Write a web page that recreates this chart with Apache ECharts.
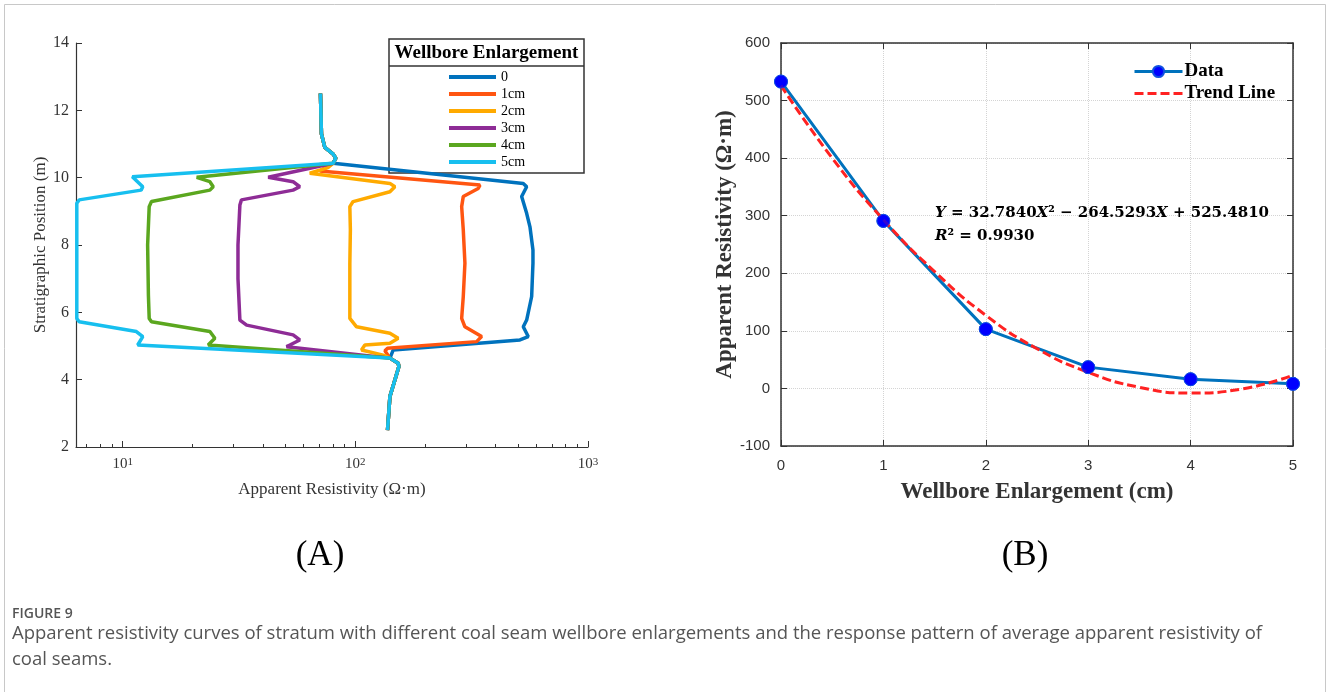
<!DOCTYPE html>
<html>
<head>
<meta charset="utf-8">
<script src="https://cdn.jsdelivr.net/npm/echarts@6.0.0/dist/echarts.min.js"></script>
<style>
html, body { margin: 0; padding: 0; background: #fff; }
#main { width: 1328px; height: 692px; }
</style>
</head>
<body>
<div id="main"></div>
<script>
// (A) apparent resistivity curves: shared top / bottom parts, then each curve's own middle part
var topDepth = [12.5, 11.3, 10.9, 10.7, 10.58, 10.43];
var topRes = [70.8, 71.5, 73.9, 80.3, 82.4, 80.3];
var bottomDepth = [4.64, 4.49, 4.39, 3.99, 3.5, 2.5];
var bottomRes = [140.8, 152.8, 153.9, 147.9, 140.8, 137.5];

var depth0 = [9.83, 9.73, 9.44, 8.94, 8.54, 7.85, 7.46, 6.47, 5.77, 5.57, 5.28, 5.18, 4.88];
var res0 = [526.9, 544.9, 518.6, 544.9, 563, 580, 580, 572.6, 544.9, 526.9, 553.5, 510, 145.4];

var depth1 = [10.2, 9.78, 9.68, 9.44, 9.14, 8.45, 7.46, 6.47, 5.82, 5.57, 5.28, 5.13, 4.93, 4.86];
var res1 = [70.3, 343.2, 337.3, 291, 286.4, 291, 295.8, 291, 286.4, 295.8, 349, 332, 137.5, 134];

var depth2 = [10.3, 10.13, 9.83, 9.73, 9.58, 9.29, 9.14, 8.45, 7.46, 6.47, 5.82, 5.57, 5.38, 5.23, 5.08, 5.03, 4.88, 4.73];
var res2 = [76.2, 63.7, 140.8, 147.9, 140.8, 97.8, 94.7, 95.2, 94.7, 94.7, 94.7, 101.2, 140.8, 152.8, 140.8, 109.9, 106.3, 131.7];

var depth3 = [10.01, 9.88, 9.73, 9.63, 9.34, 9.19, 8.0, 7.0, 5.77, 5.62, 5.33, 5.18, 5.03, 4.98];
var res3 = [42.2, 54.0, 57.7, 54.0, 32.4, 31.9, 31.3, 31.3, 31.9, 34.1, 54.0, 57.7, 52.3, 50.6];

var depth4 = [10.01, 9.88, 9.73, 9.63, 9.29, 9.14, 8.0, 6.5, 5.82, 5.72, 5.43, 5.23, 5.03, 4.98];
var res4 = [20.8, 23.7, 24.5, 23.7, 13.3, 13.0, 12.8, 12.9, 13.0, 13.3, 23.7, 24.9, 23.3, 22.9];

var depth5 = [10.03, 9.73, 9.63, 9.34, 9.24, 5.82, 5.72, 5.43, 5.28, 5.03, 4.98];
var res5 = [11.0, 12.2, 12.0, 6.5, 6.35, 6.35, 6.5, 11.45, 12.2, 11.6, 11.45];

var curveNames = ['0', '1cm', '2cm', '3cm', '4cm', '5cm'];
var curveColors = ['#0072BD', '#FF5511', '#FFAA00', '#8E2C96', '#5BA71F', '#17BFEF'];

// (B) average apparent resistivity vs enlargement
var enlargement = [0, 1, 2, 3, 4, 5];
var avgRes = [533, 291, 103, 37, 16, 8];
var trendX = [0, 0.5, 1, 1.5, 2, 2.5, 3, 3.5, 4, 4.5, 5];
var trendY = [526, 400, 293, 203, 127, 69, 28, 2, -8, -1, 23];

var logMajor = [10, 100, 1000];
var logMinor = [7, 8, 9, 20, 30, 40, 50, 60, 70, 80, 90, 200, 300, 400, 500, 600, 700, 800, 900];

var serif = '"Liberation Serif", "DejaVu Serif", serif';
var mathSerif = '"DejaVu Serif", "Liberation Serif", serif';
var sans = '"Liberation Sans", Arial, sans-serif';
var capFont = '"Open Sans", "Noto Sans", sans-serif';

function makeCurve(dep, res) {
    var d = topDepth.concat(dep, bottomDepth);
    var r = topRes.concat(res, bottomRes);
    return r.map(function (v, i) { return [v, d[i]]; });
}

var chart = echarts.init(document.getElementById('main'));

var curves = [[depth0, res0], [depth1, res1], [depth2, res2], [depth3, res3], [depth4, res4], [depth5, res5]];
var series = curves.map(function (c, i) {
    return {
        name: curveNames[i],
        type: 'line',
        xAxisIndex: 0,
        yAxisIndex: 0,
        data: makeCurve(c[0], c[1]),
        showSymbol: false,
        symbol: 'none',
        color: curveColors[i],
        lineStyle: { width: 3.5, color: curveColors[i] },
        z: 2 + i
    };
});

series.push({
    name: 'Data',
    type: 'line',
    xAxisIndex: 2,
    yAxisIndex: 1,
    data: enlargement.map(function (x, i) { return [x, avgRes[i]]; }),
    symbol: 'circle',
    symbolSize: 13,
    color: '#0072BD',
    lineStyle: { width: 3, color: '#0072BD' },
    itemStyle: { color: '#0000FF', borderColor: '#1050E0', borderWidth: 1 },
    z: 2
});
series.push({
    name: 'Trend Line',
    type: 'line',
    xAxisIndex: 2,
    yAxisIndex: 1,
    data: trendX.map(function (x, i) { return [x, trendY[i]]; }),
    smooth: true,
    showSymbol: false,
    symbol: 'none',
    color: '#FF2222',
    lineStyle: { width: 3, color: '#FF2222', type: [9, 4] },
    z: 3
});
series.push({
    name: 'Data',
    type: 'scatter',
    xAxisIndex: 2,
    yAxisIndex: 1,
    data: enlargement.map(function (x, i) { return [x, avgRes[i]]; }),
    symbolSize: 13,
    itemStyle: { color: '#0000FF', borderColor: '#1050E0', borderWidth: 1 },
    z: 4
});

var option = {
    animation: false,
    backgroundColor: '#fff',
    grid: [
        { left: 76, top: 43, width: 512, height: 404 },
        { left: 781, top: 43, width: 512, height: 403 }
    ],
    legend: [
        {
            data: curveNames,
            orient: 'vertical',
            left: 449,
            top: 70,
            padding: 0,
            icon: 'rect',
            itemWidth: 47,
            itemHeight: 4,
            itemGap: 3,
            selectedMode: false,
            textStyle: { fontFamily: serif, fontSize: 14, color: '#000' }
        },
        {
            data: ['Data', { name: 'Trend Line', itemStyle: { opacity: 0 } }],
            orient: 'vertical',
            left: 1133,
            top: 62,
            padding: 0,
            itemWidth: 48,
            itemHeight: 14,
            itemGap: 3,
            selectedMode: false,
            lineStyle: { width: 3 },
            textStyle: { fontFamily: serif, fontSize: 19, fontWeight: 'bold', color: '#000', padding: [0, 0, 0, -3] }
        }
    ],
    xAxis: [
        {
            gridIndex: 0,
            type: 'log',
            min: 6.3,
            max: 1000,
            position: 'bottom',
            axisLine: { lineStyle: { color: '#333', width: 1.2 } },
            axisTick: { inside: true, length: 6, customValues: logMajor, lineStyle: { color: '#333' } },
            axisLabel: {
                customValues: logMajor,
                margin: 10,
                color: '#333',
                fontFamily: serif,
                fontSize: 15,
                formatter: function (v) { return '10{sup|' + Math.round(Math.log10(v)) + '}'; },
                rich: { sup: { fontFamily: serif, fontSize: 11, color: '#333', verticalAlign: 'top' } }
            },
            splitLine: { show: false },
            name: 'Apparent Resistivity (Ω·m)',
            nameLocation: 'middle',
            nameGap: 34,
            nameTextStyle: { fontFamily: serif, fontSize: 17, color: '#333' }
        },
        {
            gridIndex: 0,
            type: 'log',
            min: 6.3,
            max: 1000,
            position: 'bottom',
            axisLine: { show: false, onZero: false },
            axisTick: { inside: true, length: 3, customValues: logMinor, lineStyle: { color: '#333' } },
            axisLabel: { show: false },
            splitLine: { show: false }
        },
        {
            gridIndex: 1,
            type: 'value',
            min: 0,
            max: 5,
            interval: 1,
            position: 'bottom',
            axisLine: { onZero: false, lineStyle: { color: '#333', width: 1.5 } },
            axisTick: { inside: true, length: 6, lineStyle: { color: '#333' } },
            axisLabel: { margin: 12, color: '#333', fontFamily: sans, fontSize: 15 },
            splitLine: { show: true, lineStyle: { color: '#d4d4d4', type: 'dotted' } },
            name: 'Wellbore Enlargement (cm)',
            nameLocation: 'middle',
            nameGap: 35,
            nameTextStyle: { fontFamily: serif, fontSize: 23, fontWeight: 'bold', color: '#333' }
        },
        {
            gridIndex: 1,
            type: 'value',
            position: 'top',
            min: 0,
            max: 5,
            interval: 1,
            axisLine: { onZero: false, lineStyle: { color: '#333', width: 1.5 } },
            axisTick: { inside: true, length: 6, lineStyle: { color: '#333' } },
            axisLabel: { show: false },
            splitLine: { show: false }
        }
    ],
    yAxis: [
        {
            gridIndex: 0,
            type: 'value',
            min: 2,
            max: 14,
            interval: 2,
            axisLine: { show: true, onZero: false, lineStyle: { color: '#333', width: 1.2 } },
            axisTick: { show: true, inside: true, length: 6, lineStyle: { color: '#333' } },
            axisLabel: { margin: 7, color: '#333', fontFamily: serif, fontSize: 16 },
            splitLine: { show: false },
            name: 'Stratigraphic Position (m)',
            nameLocation: 'middle',
            nameGap: 23,
            nameTextStyle: { fontFamily: serif, fontSize: 17, color: '#333' }
        },
        {
            gridIndex: 1,
            type: 'value',
            min: -100,
            max: 600,
            interval: 100,
            axisLine: { show: true, onZero: false, lineStyle: { color: '#333', width: 1.5 } },
            axisTick: { show: true, inside: true, length: 6, lineStyle: { color: '#333' } },
            axisLabel: { margin: 11, color: '#333', fontFamily: sans, fontSize: 15 },
            splitLine: { show: true, lineStyle: { color: '#d4d4d4', type: 'dotted' } },
            name: 'Apparent Resistivity (Ω·m)',
            nameLocation: 'middle',
            nameGap: 37,
            nameTextStyle: { fontFamily: serif, fontSize: 23, fontWeight: 'bold', color: '#333' }
        },
        {
            gridIndex: 1,
            type: 'value',
            position: 'right',
            min: -100,
            max: 600,
            interval: 100,
            axisLine: { show: true, onZero: false, lineStyle: { color: '#333', width: 1.5 } },
            axisTick: { show: true, inside: true, length: 6, lineStyle: { color: '#333' } },
            axisLabel: { show: false },
            splitLine: { show: false }
        }
    ],
    graphic: [
        // figure frame
        { type: 'rect', shape: { x: 4.5, y: 4.5, width: 1321, height: 700 }, style: { fill: 'none', stroke: '#c8c8c8', lineWidth: 1 }, silent: true },
        // legend box of (A)
        { type: 'rect', shape: { x: 389, y: 39, width: 195, height: 134 }, style: { fill: '#fff', stroke: '#333', lineWidth: 1.5 }, z: 1, silent: true },
        { type: 'line', shape: { x1: 389, y1: 66, x2: 584, y2: 66 }, style: { stroke: '#333', lineWidth: 1.5 }, z: 1, silent: true },
        { type: 'text', x: 486.5, y: 53, style: { text: 'Wellbore Enlargement', fontFamily: serif, fontSize: 19, fontWeight: 'bold', fill: '#000', align: 'center', verticalAlign: 'middle' }, z: 2 },
        // fitted equation of (B)
        {
            type: 'text', x: 935, y: 213, z: 10,
            style: {
                text: '{i|Y} = 32.7840{i|X}² − 264.5293{i|X} + 525.4810',
                fontFamily: mathSerif, fontSize: 15, fontWeight: 'bold', fill: '#000', verticalAlign: 'middle',
                rich: { i: { fontFamily: mathSerif, fontSize: 15, fontWeight: 'bold', fontStyle: 'italic', fill: '#000' } }
            }
        },
        {
            type: 'text', x: 935, y: 236, z: 10,
            style: {
                text: '{i|R}² = 0.9930',
                fontFamily: mathSerif, fontSize: 15, fontWeight: 'bold', fill: '#000', verticalAlign: 'middle',
                rich: { i: { fontFamily: mathSerif, fontSize: 15, fontWeight: 'bold', fontStyle: 'italic', fill: '#000' } }
            }
        },
        { type: 'text', x: 320, y: 556, style: { text: '(A)', fontFamily: serif, fontSize: 35, fill: '#000', align: 'center', verticalAlign: 'middle' } },
        { type: 'text', x: 1025, y: 556, style: { text: '(B)', fontFamily: serif, fontSize: 35, fill: '#000', align: 'center', verticalAlign: 'middle' } },
        // caption
        { type: 'text', x: 12, y: 614, style: { text: 'FIGURE 9', fontFamily: capFont, fontSize: 14, fontWeight: 600, fill: '#555', verticalAlign: 'middle' } },
        { type: 'text', x: 12, y: 634, style: { text: 'Apparent resistivity curves of stratum with different coal seam wellbore enlargements and the response pattern of average apparent resistivity of', fontFamily: capFont, fontSize: 18.5, fill: '#555', verticalAlign: 'middle' } },
        { type: 'text', x: 12, y: 660, style: { text: 'coal seams.', fontFamily: capFont, fontSize: 18.5, fill: '#555', verticalAlign: 'middle' } }
    ],
    series: series
};

chart.setOption(option);
</script>
</body>
</html>
